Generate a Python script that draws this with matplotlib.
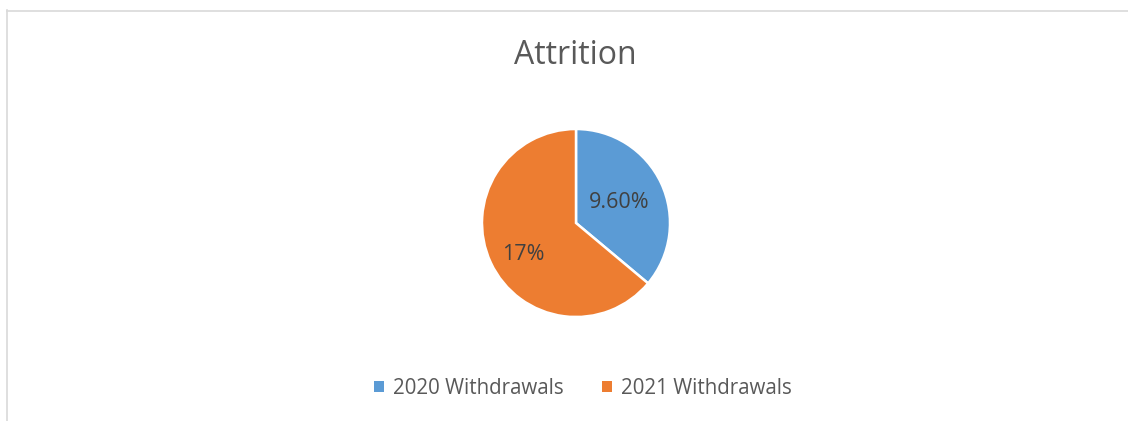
import numpy as np
import matplotlib
matplotlib.use('Agg')
import matplotlib.pyplot as plt
from matplotlib.patches import Patch
from matplotlib.lines import Line2D

# attrition data (as shown in chart)
categories = ["2020 Withdrawals", "2021 Withdrawals"]
values = [9.6, 17]
value_labels = ["9.60%", "17%"]
colors = ["#5B9BD5", "#ED7D31"]

plt.rcParams['font.family'] = ['Open Sans', 'DejaVu Sans']

W, H = 1128, 421
fig = plt.figure(figsize=(W / 100, H / 100), dpi=100)

# pie axes, centre ~ (576, 223) px, radius ~94 px
cx, cy, r = 576, 223, 94
ax = fig.add_axes([(cx - r) / W, (H - cy - r) / H, 2 * r / W, 2 * r / H])
wedges, _ = ax.pie(values, colors=colors, startangle=90, counterclock=False,
                   radius=1, wedgeprops=dict(edgecolor="white", linewidth=1.8))
ax.set_xlim(-1, 1)
ax.set_ylim(-1, 1)
ax.set_aspect('equal')
ax.axis('off')

# data labels inside slices
label_r = [0.51, 0.66]
label_shift = [0, 6]
for w, txt, lr, sh in zip(wedges, value_labels, label_r, label_shift):
    ang = np.deg2rad((w.theta1 + w.theta2) / 2 + sh)
    ax.text(lr * np.cos(ang), lr * np.sin(ang), txt, ha='center', va='center',
            fontsize=15.5, color="#404040")

fig.text(575 / W, 1 - 56 / H, "Attrition", ha='center', va='center',
         fontsize=23, color="#595959")

handles = [Patch(facecolor=c, edgecolor='none') for c in colors]
fig.legend(handles, categories, loc='center', bbox_to_anchor=(583 / W, 1 - 388 / H),
           ncol=2, frameon=False, fontsize=14.8, labelcolor="#595959",
           handlelength=0.45, handleheight=0.45, handletextpad=0.45, columnspacing=1.9)

# chart area border (light gray)
fig.add_artist(Line2D([7 / W, 7 / W], [0, 1 - 10 / H], color="#D9D9D9", lw=1.2))
fig.add_artist(Line2D([7 / W, 1], [1 - 10.5 / H, 1 - 10.5 / H], color="#D9D9D9", lw=1.2))

fig.savefig("out.png", dpi=100, facecolor="white")
